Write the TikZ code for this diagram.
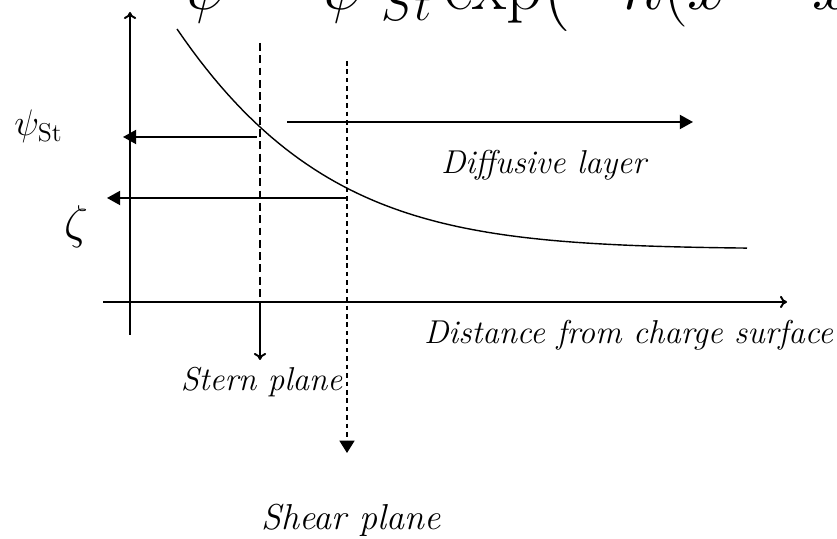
\RequirePackage{fix-cm}
\documentclass[tikz,border=0pt]{standalone}
\usepackage{amsmath}
\usepackage{tikz}
\usetikzlibrary{arrows.meta, positioning, calc}
\tikzset{
  axisline/.style={line width=1.1pt, color=black, -{To[length=4pt,width=7pt]}},
  potarrow/.style={line width=1.1pt, color=black, -{Triangle[length=7.5pt,width=8pt]}},
  sterndash/.style={line width=0.9pt, color=black, dash pattern=on 4.5pt off 2.5pt},
  sheardash/.style={line width=0.9pt, color=black, dash pattern=on 2.6pt off 2.2pt,
    -{Triangle[length=7pt,width=8.5pt]}},
  curve/.style={line width=0.8pt, color=black},
  lbl/.style={font=\fontsize{18.8}{22}\selectfont\itshape, inner sep=0pt},
  symb/.style={font=\fontsize{21}{24}\selectfont, inner sep=0pt},
  formula/.style={font=\fontsize{40}{44}\selectfont, inner sep=0pt}
}
\begin{document}
\begin{tikzpicture}
  \useasboundingbox (0,0) rectangle (16.74,10.78);
  \clip (0,0) rectangle (16.74,10.78);
  % ── formula, cut by the top edge ─────────────────────────────────────────
  \node[formula, anchor=base west] (eq) at (3.64,10.58)
    {$\psi=\psi_{\hspace{0.25em}St}\exp\bigl(-\kappa(x-x_{St})\bigr)$};
  % ── axes ─────────────────────────────────────────────────────────────────
  \coordinate (ybot) at (2.60,4.08);
  \coordinate (ytop) at (2.60,10.54);
  \coordinate (xbeg) at (2.06,4.74);
  \coordinate (xend) at (15.74,4.74);
  \draw[axisline] (ybot) -- (ytop);
  \draw[axisline] (xbeg) -- (xend);
  % ── potential curve ──────────────────────────────────────────────────────
  \draw[curve, domain=0:11.4, samples=80, variable=\t]
    plot ({3.54+\t},{5.80+4.40*exp(-0.3338*\t-0.01305*\t*\t)});
  % ── Stern plane ──────────────────────────────────────────────────────────
  \coordinate (sterntop) at (5.20,9.92);
  \coordinate (sternx) at (5.20,4.74);
  \coordinate (sternend) at (5.20,3.58);
  \draw[sterndash] (sterntop) -- (sternx);
  \draw[axisline] (sternx) -- (sternend);
  % ── shear plane ──────────────────────────────────────────────────────────
  \coordinate (sheartop) at (6.94,9.56);
  \coordinate (shearend) at (6.94,1.72);
  \draw[sheardash] (sheartop) -- (shearend);
  % ── potentials and layer ─────────────────────────────────────────────────
  \coordinate (psibeg) at (5.14,8.04);
  \coordinate (psiend) at (2.46,8.04);
  \coordinate (zetabeg) at (6.96,6.82);
  \coordinate (zetaend) at (2.14,6.82);
  \coordinate (diffbeg) at (5.74,8.34);
  \coordinate (diffend) at (13.86,8.34);
  \draw[potarrow] (psibeg) -- (psiend);
  \draw[potarrow] (zetabeg) -- (zetaend);
  \draw[potarrow] (diffbeg) -- (diffend);
  % ── labels ───────────────────────────────────────────────────────────────
  \node[symb, anchor=base west] (psist) at (0.28,8.07) {$\psi_{\mathrm{St}}$};
  \node[symb, font=\fontsize{27}{30}\selectfont] (zeta) at (1.52,6.25) {$\zeta$};
  \node[lbl] (difflbl) at (10.87,7.48) {Diffusive layer};
  \node[lbl] (distlbl) at (12.57,4.08) {Distance from charge surface};
  \node[lbl] (sternlbl) at (5.23,3.14) {Stern plane};
  \node[lbl, font=\fontsize{20.5}{24}\selectfont\itshape] (shearlbl) at (7.02,0.38) {Shear plane};
\end{tikzpicture}
\end{document}
